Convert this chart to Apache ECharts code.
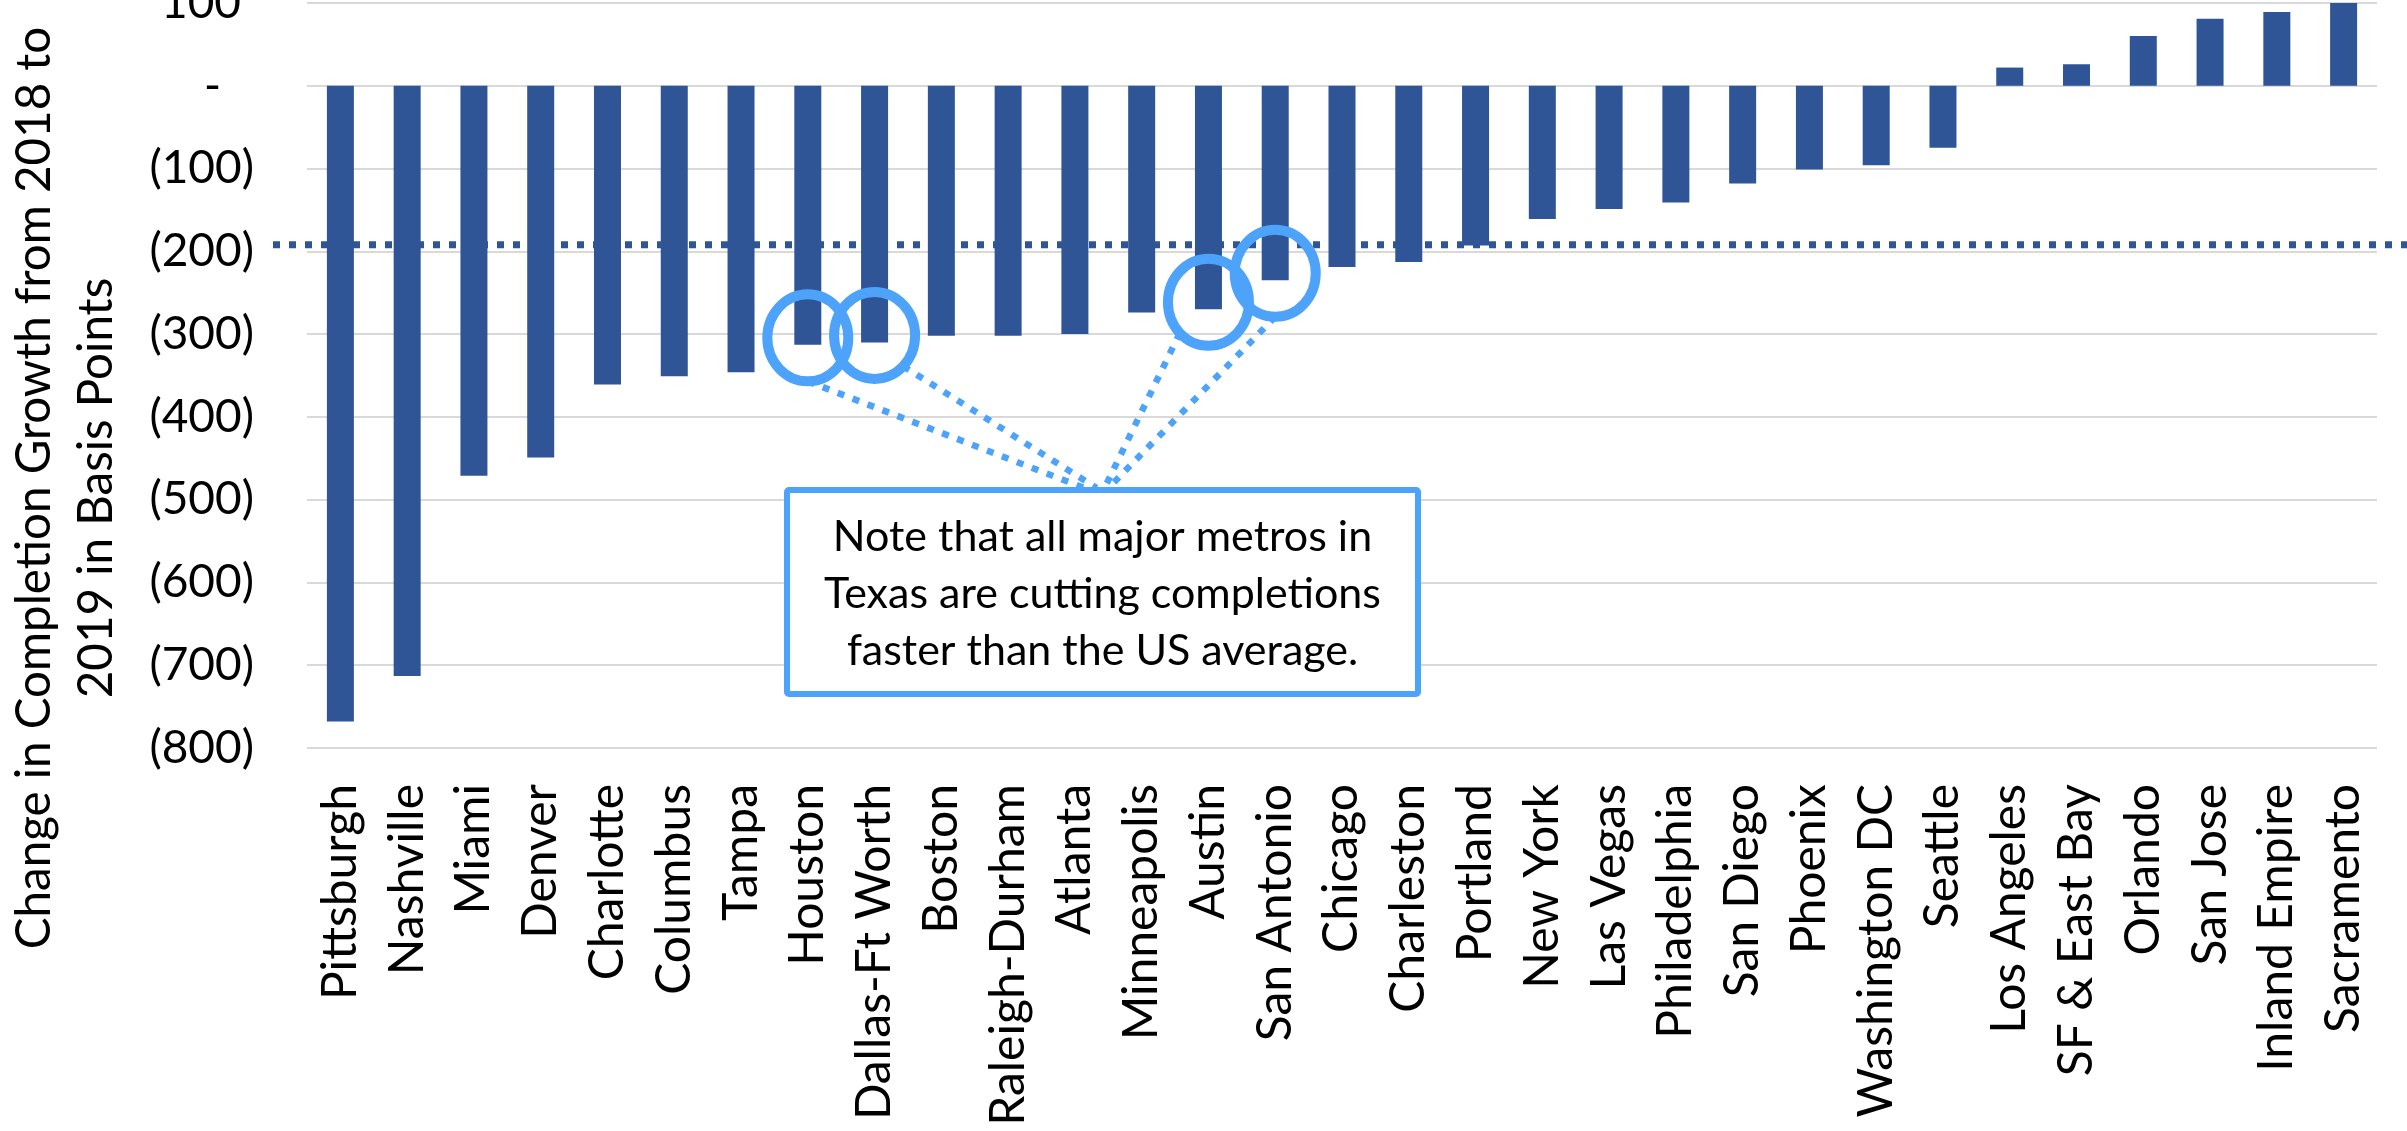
<!DOCTYPE html>
<html>
<head>
<meta charset="utf-8">
<title>Change in Completion Growth by Metro</title>
<script src="https://cdn.jsdelivr.net/npm/echarts@6/dist/echarts.min.js"></script>
<style>
  html, body { margin: 0; padding: 0; background: #ffffff; }
  #chart { width: 2407px; height: 1131px; }
</style>
</head>
<body>
<div id="chart"></div>
<script>
// Metro areas, ordered from the largest cut to the largest gain
const metros = [
  'Pittsburgh', 'Nashville', 'Miami', 'Denver', 'Charlotte', 'Columbus', 'Tampa',
  'Houston', 'Dallas-Ft Worth', 'Boston', 'Raleigh-Durham', 'Atlanta', 'Minneapolis',
  'Austin', 'San Antonio', 'Chicago', 'Charleston', 'Portland', 'New York',
  'Las Vegas', 'Philadelphia', 'San Diego', 'Phoenix', 'Washington DC', 'Seattle',
  'Los Angeles', 'SF & East Bay', 'Orlando', 'San Jose', 'Inland Empire', 'Sacramento'
];

// Change in completion growth, 2018 -> 2019, basis points
const changeBps = [
  -768, -713, -471, -449, -361, -351, -346,
  -313, -310, -302, -302, -300, -274,
  -270, -235, -219, -213, -193, -161,
  -149, -141, -118, -101, -96, -75,
  22, 26, 60, 81, 89, 100
];

// National benchmark drawn as the dotted reference line
const usAverageBps = -192;

// Value axis ticks
const yMin = -800;
const yMax = 100;
const yStep = 100;

// Metros called out in the note
const texasMetros = ['Houston', 'Dallas-Ft Worth', 'Austin', 'San Antonio'];

const yAxisTitle = 'Change in Completion Growth from 2018 to\n2019 in Basis Points';
const noteText = 'Note that all major metros in\nTexas are cutting completions\nfaster than the US average.';

const FONT = 'Lato';
const BAR_BLUE = '#2F5597';
const NOTE_BLUE = '#4DA3FA';

// Accounting-style tick labels: 100, -, (100) ...
function accounting(v) {
  if (v > 0) return '{pos|' + v + '}';
  if (v === 0) return '{zero|-}';
  return '{neg|(' + (-v) + ')}';
}
const tickFont = { fontFamily: FONT, fontSize: 46, color: '#000000' };

const chart = echarts.init(document.getElementById('chart'), null, { renderer: 'canvas' });

chart.setOption({
  animation: false,
  backgroundColor: '#ffffff',
  grid: {
    left: 307, right: 30, top: 3, bottom: 383,
    containLabel: false,
    outerBoundsMode: 'none'
  },
  xAxis: {
    type: 'category',
    data: metros,
    boundaryGap: true,
    axisLine: { show: false, onZero: false },
    axisTick: { show: false },
    splitLine: { show: false },
    axisLabel: {
      interval: 0,
      rotate: 90,
      margin: 36,
      fontFamily: FONT,
      fontSize: 48,
      color: '#000000'
    }
  },
  yAxis: {
    type: 'value',
    min: yMin,
    max: yMax,
    interval: yStep,
    axisLine: { show: false },
    axisTick: { show: false },
    splitLine: { show: true, lineStyle: { color: '#D9D9D9', width: 2 } },
    axisLabel: {
      margin: 53,
      formatter: accounting,
      fontFamily: FONT,
      fontSize: 46,
      color: '#000000',
      rich: {
        pos: Object.assign({ padding: [0, 13, 0, 0] }, tickFont),
        zero: Object.assign({ padding: [0, 33, 0, 0] }, tickFont),
        neg: Object.assign({}, tickFont)
      }
    }
  },
  series: [{
    type: 'bar',
    data: changeBps,
    barWidth: 27,
    itemStyle: { color: BAR_BLUE },
    z: 2
  }]
});

// Annotation layer: axis title, US-average line, Texas callout
function drawAnnotations() {
  const graphics = [];

  graphics.push({
    type: 'text',
    x: 66,
    y: 488,
    rotation: Math.PI / 2,
    style: {
      text: yAxisTitle,
      fontFamily: FONT,
      fontSize: 47.5,
      lineHeight: 62,
      fill: '#000000',
      align: 'center',
      verticalAlign: 'middle'
    },
    z: 5
  });

  // Dotted US-average line, placed on the value axis
  const avgY = chart.convertToPixel({ yAxisIndex: 0 }, usAverageBps);
  graphics.push({
    type: 'line',
    shape: { x1: 273, y1: avgY, x2: 2407, y2: avgY },
    style: { stroke: BAR_BLUE, lineWidth: 7, lineDash: [7, 9] },
    z: 6
  });

  // Callout box
  const box = { x: 787, y: 490, w: 631, h: 204 };
  const boxTopX = box.x + box.w / 2;

  // Circles around each Texas bar end, with a connector to the box
  const rx = 40.5, ry = 43.5;
  const attachDeg = [90, 45, 135, 90];
  const endOffset = [-18, -6, 2, 6];
  texasMetros.forEach(function (name, i) {
    const idx = metros.indexOf(name);
    const p = chart.convertToPixel({ seriesIndex: 0 }, [idx, changeBps[idx]]);
    const cx = p[0];
    const cy = p[1] - 7;
    const a = attachDeg[i] * Math.PI / 180;
    graphics.push({
      type: 'line',
      shape: {
        x1: cx + rx * Math.cos(a), y1: cy + ry * Math.sin(a),
        x2: boxTopX + endOffset[i], y2: box.y - 2
      },
      style: { stroke: NOTE_BLUE, lineWidth: 6.5, lineDash: [7, 9] },
      z: 7
    });
    graphics.push({
      type: 'ellipse',
      shape: { cx: cx, cy: cy, rx: rx, ry: ry },
      style: { fill: null, stroke: NOTE_BLUE, lineWidth: 10 },
      z: 8
    });
  });

  graphics.push({
    type: 'rect',
    shape: { x: box.x, y: box.y, width: box.w, height: box.h, r: 2 },
    style: { fill: '#ffffff', stroke: NOTE_BLUE, lineWidth: 6 },
    z: 9
  });
  graphics.push({
    type: 'text',
    x: boxTopX,
    y: box.y + box.h / 2 + 2,
    style: {
      text: noteText,
      fontFamily: FONT,
      fontSize: 43,
      lineHeight: 57,
      fill: '#000000',
      align: 'center',
      verticalAlign: 'middle'
    },
    z: 10
  });

  chart.setOption({ graphic: graphics });
}

drawAnnotations();
</script>
</body>
</html>
